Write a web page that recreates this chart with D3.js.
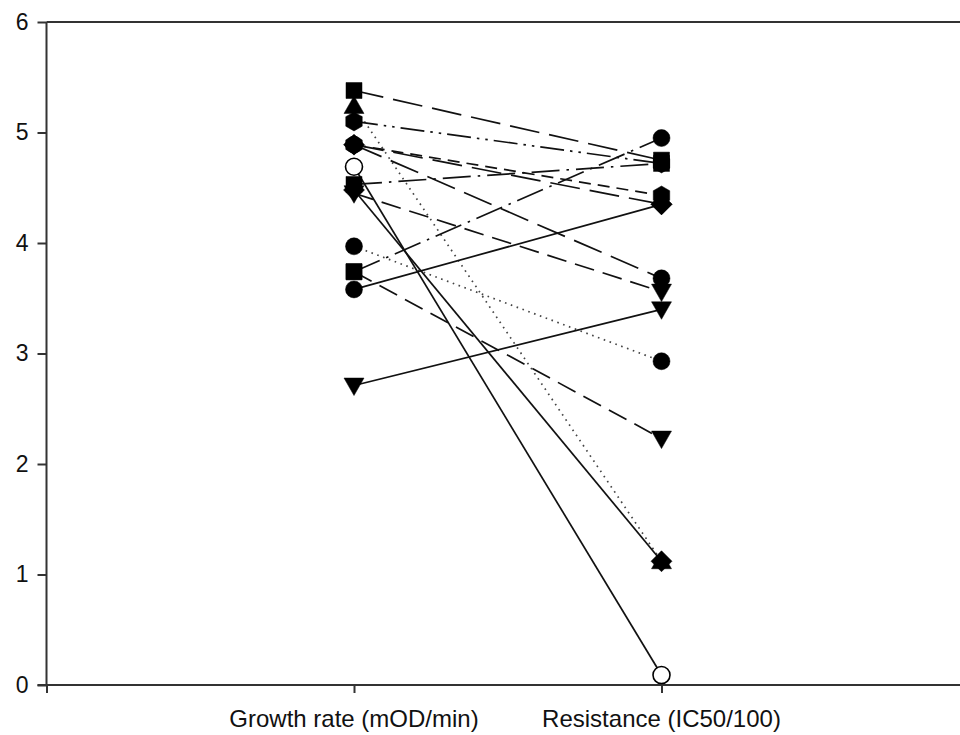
<!DOCTYPE html>
<html>
<head>
<meta charset="utf-8">
<style>
  body { margin: 0; background: #fff; }
  text { font-family: "Liberation Sans", Arial, sans-serif; fill: #111; }
</style>
<title>Growth rate vs resistance</title>
</head>
<body>
<script src="https://cdn.jsdelivr.net/npm/d3@7"></script>
<script>
// one pair of points per strain
var categories = ["Growth rate (mOD/min)", "Resistance (IC50/100)"];
var growthRate = [5.38, 5.24, 5.10, 4.53, 4.48, 4.69, 4.45, 4.89, 4.89, 4.89, 3.97, 3.74, 3.74, 3.58, 2.71];
var resistance = [4.75, 1.12, 4.72, 4.72, 1.12, 0.09, 3.56, 3.68, 4.43, 4.35, 2.93, 4.95, 2.23, 4.35, 3.40];
var yTicks = [0, 1, 2, 3, 4, 5, 6];

// marker / line style per strain
var leftSymbols  = ["square","triUp","hexagon","square","diamond","openCircle","triDown","circle","hexagon","diamond","circle","square","square","circle","triDown"];
var rightSymbols = ["square","triUp","hexagon","square","diamond","openCircle","triDown","circle","hexagon","diamond","circle","circle","triDown","diamond","triDown"];
var dashes = ["long","dot","dashDotDot","dashDot","solid","solid","med","long","short","long","dot","dashDot","med","solid","solid"];

var dashArray = {
  solid: null,
  long: "30,10",
  med: "20,9",
  short: "12,7",
  dot: "1.6,4.6",
  dashDot: "28,7,2.5,7",
  dashDotDot: "24,6,2.5,6,2.5,6"
};

var W = 960, H = 735;
var svg = d3.select("body").append("svg")
  .attr("width", W)
  .attr("height", H);

var x = d3.scaleLinear().domain([0, 3]).range([46.5, 969]);
var y = d3.scaleLinear().domain([0, 6]).range([685, 22]);

// axes
var yAxis = svg.append("g")
  .attr("transform", "translate(" + x(0) + ",0)")
  .call(d3.axisLeft(y).tickValues(yTicks).tickSize(9).tickPadding(9).tickFormat(d3.format("d")));
yAxis.selectAll("text").style("font-size", "23px");

var xAxis = svg.append("g")
  .attr("transform", "translate(0," + y(0) + ")")
  .call(d3.axisBottom(x).tickValues([0, 1, 2]).tickSize(8).tickFormat(""));

svg.selectAll(".domain").attr("stroke", "#333").attr("stroke-width", 2);
svg.selectAll(".tick line").attr("stroke", "#333").attr("stroke-width", 2);
yAxis.select(".domain").attr("d", "M0," + y(0) + "V" + y(6));
xAxis.select(".domain").attr("d", "M" + (x(0) - 9) + ",0H" + W);

// top frame line
svg.append("line")
  .attr("x1", x(0)).attr("x2", W)
  .attr("y1", y(6)).attr("y2", y(6))
  .attr("stroke", "#333").attr("stroke-width", 2);

svg.selectAll(".cat")
  .data(categories)
  .enter().append("text")
    .attr("class", "cat")
    .attr("x", function(d, i) { return x(i + 1); })
    .attr("y", 727)
    .attr("text-anchor", "middle")
    .style("font-size", "24px")
    .text(function(d) { return d; });

// marker paths
function shape(type) {
  var r = 8.5;
  if (type == "circle" || type == "openCircle") {
    return d3.symbol().type(d3.symbolCircle).size(Math.PI * r * r)();
  }
  var pts;
  if (type == "square") pts = [[-8,-8],[8,-8],[8,8],[-8,8]];
  if (type == "diamond") pts = [[0,-10.5],[10.5,0],[0,10.5],[-10.5,0]];
  if (type == "triUp") pts = [[0,-10],[10,7.5],[-10,7.5]];
  if (type == "triDown") pts = [[0,10],[10,-7.5],[-10,-7.5]];
  if (type == "hexagon") pts = d3.range(6).map(function(k) {
    var a = Math.PI / 3 * k - Math.PI / 2;
    return [9.5 * Math.cos(a), 9.5 * Math.sin(a)];
  });
  return "M" + pts.join("L") + "Z";
}

var strains = growthRate.map(function(g, i) {
  return { g: g, r: resistance[i], ls: leftSymbols[i], rs: rightSymbols[i], dash: dashes[i] };
});

var plot = svg.append("g");

plot.selectAll("line.pair")
  .data(strains)
  .enter().append("line")
    .attr("class", "pair")
    .attr("x1", x(1)).attr("x2", x(2))
    .attr("y1", function(d) { return y(d.g); })
    .attr("y2", function(d) { return y(d.r); })
    .attr("stroke", function(d) { return d.dash == "dot" ? "#444" : "#111"; })
    .attr("stroke-width", 1.7)
    .attr("stroke-dasharray", function(d) { return dashArray[d.dash]; });

function addMarkers(cls, xv, valueKey, symKey) {
  plot.selectAll("path." + cls)
    .data(strains)
    .enter().append("path")
      .attr("class", cls)
      .attr("transform", function(d) { return "translate(" + x(xv) + "," + y(d[valueKey]) + ")"; })
      .attr("d", function(d) { return shape(d[symKey]); })
      .attr("fill", function(d) { return d[symKey] == "openCircle" ? "#fff" : "#000"; })
      .attr("stroke", "#000")
      .attr("stroke-width", function(d) { return d[symKey] == "openCircle" ? 1.6 : 0.5; });
}
addMarkers("left", 1, "g", "ls");
addMarkers("right", 2, "r", "rs");
</script>
</body>
</html>
